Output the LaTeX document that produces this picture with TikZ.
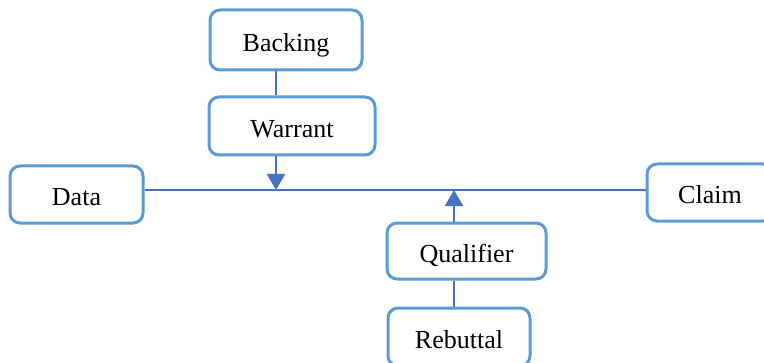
\documentclass[tikz,border=0pt]{standalone}
\usepackage{fontspec}
\setmainfont{Liberation Serif}
\usetikzlibrary{arrows.meta, positioning, calc}
\definecolor{boxblue}{HTML}{5B9BD5}
\definecolor{lineblue}{HTML}{4472C4}
\tikzset{
  part/.style={rectangle, rounded corners=5pt, draw=boxblue, line width=1.5pt, fill=white,
    inner sep=0pt, align=center, text height=11.2pt, text depth=0pt,
    font=\fontsize{13}{15}\selectfont},
  link/.style={line width=1.2pt, lineblue},
  linkarrow/.style={link, -{Triangle[width=9pt, length=8pt]}},
}
\begin{document}
\begin{tikzpicture}[x=0.5pt, y=-0.5pt]
\useasboundingbox (0,0) rectangle (764,363);
\node[part, minimum width=76pt, minimum height=30pt] (backing) at (286,40) {Backing};
\node[part, minimum width=83pt, minimum height=29pt] (warrant) at (292,126) {Warrant};
\node[part, minimum width=66.5pt, minimum height=28.5pt] (data) at (76.5,194.5) {Data};
\node[part, minimum width=63pt, minimum height=28.5pt] (claim) at (710,192.5) {Claim};
\node[part, minimum width=79.5pt, minimum height=28pt] (qualifier) at (466.5,251) {Qualifier};
\node[part, minimum width=71pt, minimum height=29pt] (rebuttal) at (459,337) {Rebuttal};
% junctions on the main line
\coordinate (wjoin) at (276,190);
\coordinate (qjoin) at (454,190);
\draw[link] (data.east |- wjoin) -- (claim.west |- wjoin);
\draw[link] (backing.south -| wjoin) -- (warrant.north -| wjoin);
\draw[linkarrow] (warrant.south -| wjoin) -- (wjoin);
\draw[link] (rebuttal.north -| qjoin) -- (qualifier.south -| qjoin);
\draw[linkarrow] (qualifier.north -| qjoin) -- (qjoin);
\end{tikzpicture}
\end{document}
